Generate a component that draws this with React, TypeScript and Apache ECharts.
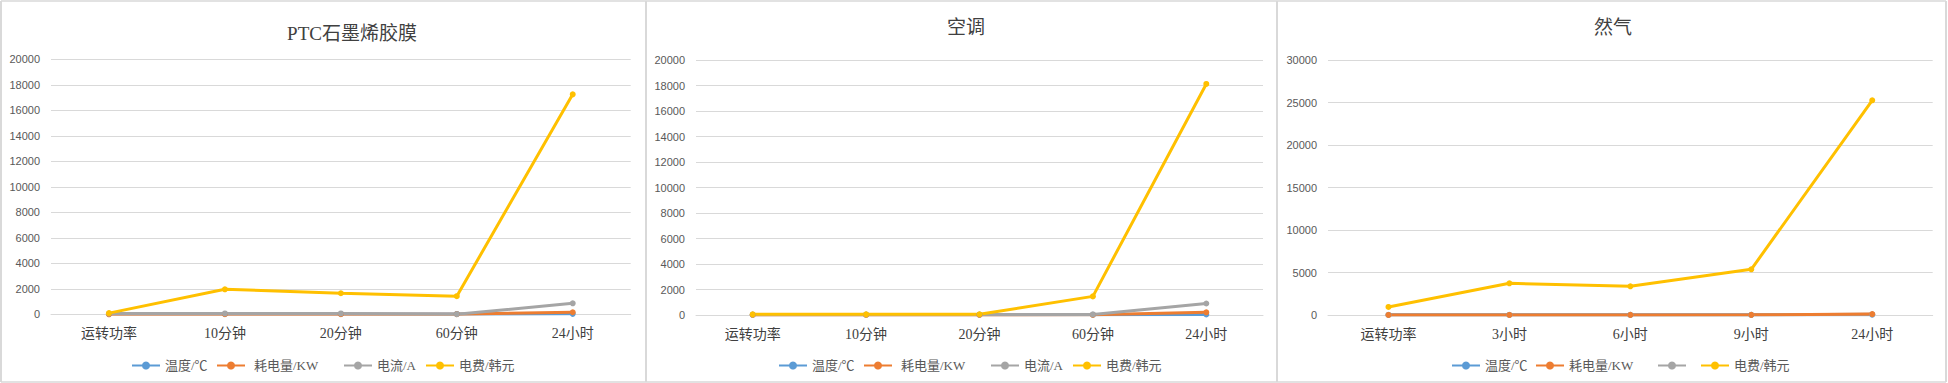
import React, { useEffect, useRef } from 'react';
import * as echarts from 'echarts';

// ---------- data ----------
const titles = ['PTC石墨烯胶膜', '空调', '然气'];
const categoriesPTC = ['运转功率', '10分钟', '20分钟', '60分钟', '24小时'];
const categoriesAC = ['运转功率', '10分钟', '20分钟', '60分钟', '24小时'];
const categoriesGas = ['运转功率', '3小时', '6小时', '9小时', '24小时'];

const seriesNames = ['温度/℃', '耗电量/KW', '电流/A', '电费/韩元'];
const gasGrayName = ' ';

const ptcTemp = [20, 25, 28, 30, 35];
const ptcPower = [1, 5, 8, 10, 160];
const ptcCurrent = [60, 70, 70, 10, 860];
const ptcCost = [90, 1960, 1650, 1420, 17250];

const acTemp = [20, 22, 24, 26, 40];
const acPower = [1, 2, 4, 10, 210];
const acCurrent = [30, 35, 40, 45, 900];
const acCost = [50, 50, 60, 1460, 18120];

const gasTemp = [15, 20, 22, 25, 30];
const gasPower = [5, 10, 12, 15, 110];
const gasGray = [0, 0, 0, 0, 80];
const gasCost = [950, 3730, 3380, 5380, 25290];

const yMaxPTC = 20000, yIntPTC = 2000;
const yMaxAC = 20000, yIntAC = 2000;
const yMaxGas = 30000, yIntGas = 5000;

// ---------- style / layout ----------
const COLORS = ['#5B9BD5', '#ED7D31', '#A5A5A5', '#FFC000'];
const CJK = '"Noto Sans CJK SC"';
const SERIF = `"Liberation Serif", ${CJK}, serif`;
const SANS = `"Liberation Sans", ${CJK}, sans-serif`;

const panels = [
  {
    title: titles[0], titleX: 352, titleY: 33,
    grid: { left: 51, top: 59.3, width: 579.7, height: 255 },
    cats: categoriesPTC, max: yMaxPTC, interval: yIntPTC,
    data: [ptcTemp, ptcPower, ptcCurrent, ptcCost],
    names: seriesNames,
    order: [0, 1, 2, 3],
    legendX: [131, 216, 343, 425],
    legendPad: [0, 4, 0, 0],
  },
  {
    title: titles[1], titleX: 966, titleY: 27,
    grid: { left: 696, top: 60, width: 567, height: 255 },
    cats: categoriesAC, max: yMaxAC, interval: yIntAC,
    data: [acTemp, acPower, acCurrent, acCost],
    names: seriesNames,
    order: [0, 1, 2, 3],
    legendX: [778, 863, 990, 1072],
    legendPad: [0, 4, 0, 0],
  },
  {
    title: titles[2], titleX: 1613, titleY: 27,
    grid: { left: 1328, top: 60.3, width: 604.7, height: 254.7 },
    cats: categoriesGas, max: yMaxGas, interval: yIntGas,
    data: [gasTemp, gasPower, gasGray, gasCost],
    names: [seriesNames[0], seriesNames[1], gasGrayName, seriesNames[3]],
    order: [0, 2, 1, 3],
    legendX: [1451, 1535, 1657, 1700],
    legendPad: [0, 0, 0, 0],
  },
];

function buildOption() {
  const grid: any[] = [];
  const xAxis: any[] = [];
  const yAxis: any[] = [];
  const series: any[] = [];
  const legend: any[] = [];
  const graphic: any[] = [];

  panels.forEach((p, pi) => {
    grid.push({ ...p.grid, containLabel: false });
    xAxis.push({
      type: 'category',
      gridIndex: pi,
      data: p.cats,
      boundaryGap: true,
      axisLine: { show: true, lineStyle: { color: '#D9D9D9', width: 1 } },
      axisTick: { show: false },
      axisLabel: {
        color: '#404040',
        fontSize: 14,
        fontFamily: SERIF,
        margin: 12,
        interval: 0,
      },
      splitLine: { show: false },
    });
    yAxis.push({
      type: 'value',
      gridIndex: pi,
      min: 0,
      max: p.max,
      interval: p.interval,
      axisLine: { show: false },
      axisTick: { show: false },
      axisLabel: {
        color: '#595959',
        fontSize: 11,
        fontFamily: SANS,
        margin: 11,
        formatter: (v: number) => String(v),
      },
      splitLine: { show: true, lineStyle: { color: '#D9D9D9', width: 1 } },
    });

    p.order.forEach((si) => {
      series.push({
        type: 'line',
        name: p.names[si],
        xAxisIndex: pi,
        yAxisIndex: pi,
        data: p.data[si],
        symbol: 'circle',
        symbolSize: 6,
        showSymbol: true,
        lineStyle: { color: COLORS[si], width: 3 },
        itemStyle: { color: COLORS[si] },
        emphasis: { disabled: true },
      });
    });

    p.names.forEach((nm, si) => {
      legend.push({
        data: [nm],
        left: p.legendX[si],
        top: 359,
        padding: 0,
        itemWidth: 28,
        itemHeight: 10,
        selectedMode: false,
        textStyle: {
          color: '#595959',
          fontSize: 13,
          fontFamily: SERIF,
          padding: si === 1 ? [0, 0, 0, p.legendPad[1]] : 0,
        },
      });
    });

    graphic.push({
      type: 'text',
      x: p.titleX,
      y: p.titleY,
      style: {
        text: p.title,
        fill: '#404040',
        fontSize: 19,
        fontFamily: SERIF,
        textAlign: 'center',
        textVerticalAlign: 'middle',
      },
    });
  });

  // panel borders
  const bc = '#D9D9D9';
  const vx = [1, 646, 1277, 1946];
  vx.forEach((x) => {
    graphic.push({ type: 'line', shape: { x1: x, y1: 1, x2: x, y2: 382 }, style: { stroke: bc, lineWidth: 2 } });
  });
  [1, 382].forEach((y) => {
    graphic.push({ type: 'line', shape: { x1: 1, y1: y, x2: 1946, y2: y }, style: { stroke: bc, lineWidth: 1.5 } });
  });

  return {
    animation: false,
    backgroundColor: '#ffffff',
    grid,
    xAxis,
    yAxis,
    series,
    legend,
    graphic,
  };
}

export default function App() {
  const ref = useRef<HTMLDivElement>(null);
  useEffect(() => {
    if (!ref.current) return;
    const chart = echarts.init(ref.current, null, { renderer: 'svg' });
    chart.setOption(buildOption() as any);
    return () => chart.dispose();
  }, []);
  return (
    <div
      ref={ref}
      style={{ position: 'absolute', left: 0, top: 0, width: 1948, height: 383, background: '#fff' }}
    />
  );
}
